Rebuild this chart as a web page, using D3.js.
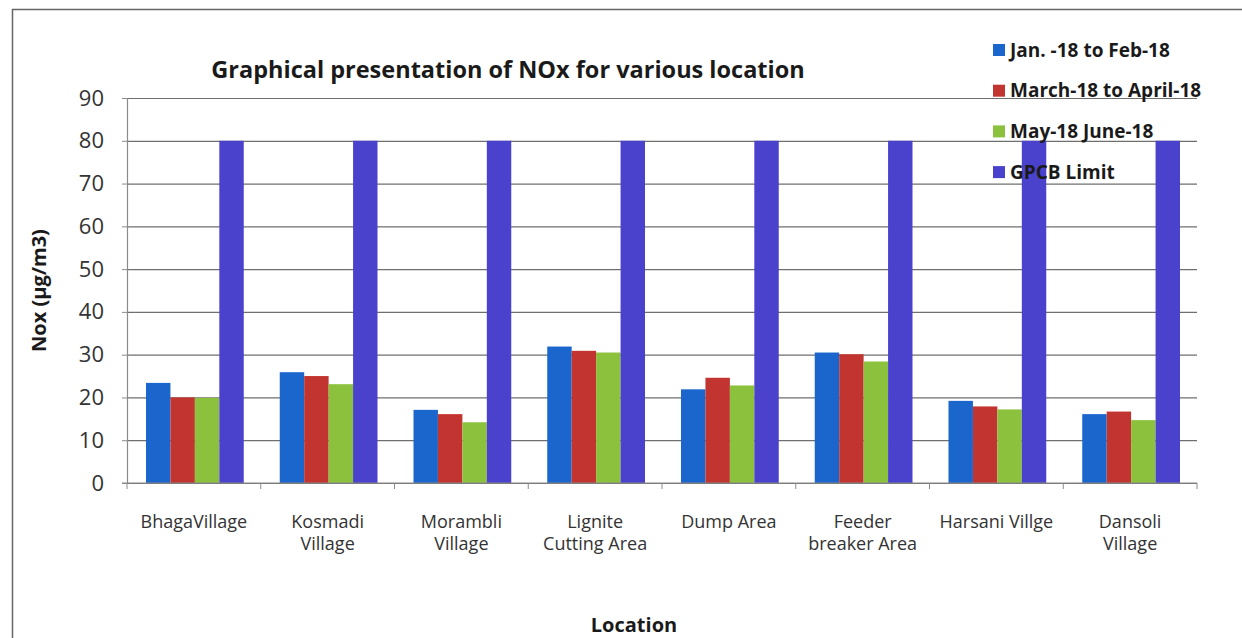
<!DOCTYPE html>
<html>
<head>
<meta charset="utf-8">
<script src="https://cdn.jsdelivr.net/npm/d3@7"></script>
<style>
    body { margin: 0; background: #fff; }
    svg text { font-family: "Open Sans", Lato, sans-serif; }
</style>
</head>
<body>
<div id="chart"></div>
<script>

// categories (multi-line labels split on "|")
var locations = ["BhagaVillage", "Kosmadi|Village", "Morambli|Village", "Lignite|Cutting Area",
    "Dump Area", "Feeder|breaker Area", "Harsani Villge", "Dansoli|Village"];

var seriesNames = ["Jan. -18 to Feb-18", "March-18 to April-18", "May-18 June-18", "GPCB Limit"];
var seriesColors = ["#1a66cc", "#c2342f", "#8cc13e", "#4a42cc"];

var janFeb = [23.4, 25.9, 17.1, 31.9, 21.9, 30.5, 19.2, 16.1];
var marApr = [20.0, 25.0, 16.1, 30.9, 24.6, 30.1, 17.9, 16.7];
var mayJun = [19.9, 23.1, 14.2, 30.5, 22.8, 28.4, 17.2, 14.7];
var gpcbLimit = [80, 80, 80, 80, 80, 80, 80, 80];

var yTicks = [0, 10, 20, 30, 40, 50, 60, 70, 80, 90];

var W = 1242, H = 638;
var plot = {left: 127, right: 1197, top: 98, bottom: 483};

var svg = d3.select("#chart").append("svg")
    .attr("width", W)
    .attr("height", H);

svg.append("rect").attr("width", W).attr("height", H).attr("fill", "#fff");

// outer chart-area frame (only left and top edges fall inside the picture)
svg.append("rect")
    .attr("x", 12.5).attr("y", 9.5)
    .attr("width", W + 20).attr("height", H + 20)
    .attr("fill", "none")
    .attr("stroke", "#666")
    .attr("stroke-width", 1.5);

var x0 = d3.scaleBand()
    .domain(locations)
    .range([plot.left, plot.right]);

var x1 = d3.scaleBand()
    .domain(seriesNames)
    .range([19, x0.bandwidth() - 17]);

var y = d3.scaleLinear()
    .domain([0, 90])
    .range([plot.bottom, plot.top]);

// gridlines
svg.append("g")
    .attr("transform", "translate(" + plot.left + ",0)")
    .call(d3.axisLeft(y).tickValues(yTicks).tickSize(-(plot.right - plot.left)).tickFormat(""))
    .call(function(g) {
        g.select(".domain").remove();
        g.selectAll("line").attr("stroke", "#6f6f6f").attr("stroke-width", 1.2);
    });

// bars
var table = locations.map(function(loc, i) {
    return {loc: loc, values: [janFeb[i], marApr[i], mayJun[i], gpcbLimit[i]]};
});

var groups = svg.append("g").selectAll("g")
    .data(table)
    .join("g")
    .attr("transform", function(d) { return "translate(" + x0(d.loc) + ",0)"; });

groups.selectAll("rect")
    .data(function(d) {
        return d.values.map(function(v, k) { return {name: seriesNames[k], value: v, color: seriesColors[k]}; });
    })
    .join("rect")
    .attr("x", function(d) { return x1(d.name); })
    .attr("width", x1.bandwidth())
    .attr("y", function(d) { return y(d.value); })
    .attr("height", function(d) { return y(0) - y(d.value); })
    .attr("fill", function(d) { return d.color; });

// y axis
var yAxis = svg.append("g")
    .attr("transform", "translate(" + plot.left + ",0)")
    .call(d3.axisLeft(y).tickValues(yTicks).tickSize(5).tickPadding(18));
yAxis.select(".domain").attr("stroke", "#8a8a8a").attr("stroke-width", 1.2);
yAxis.selectAll("line").attr("stroke", "#8a8a8a");
yAxis.selectAll("text")
    .attr("font-size", 22)
    .attr("fill", "#333")
    .style("font-family", "'Open Sans', sans-serif");

// x axis: ticks between categories
var xAxis = svg.append("g")
    .attr("transform", "translate(0," + plot.bottom + ")");
xAxis.append("line")
    .attr("x1", plot.left - 5).attr("x2", plot.right)
    .attr("stroke", "#8a8a8a").attr("stroke-width", 1.2);
xAxis.selectAll("line.tick")
    .data(locations.concat(["end"]))
    .join("line")
    .attr("class", "tick")
    .attr("x1", function(d, i) { return plot.left + i * x0.step(); })
    .attr("x2", function(d, i) { return plot.left + i * x0.step(); })
    .attr("y1", 0).attr("y2", 6)
    .attr("stroke", "#8a8a8a");

// two-line labels as separate texts, one per line
var labelLines = [];
locations.forEach(function(loc) {
    loc.split("|").forEach(function(line, i) {
        labelLines.push({loc: loc, line: line, row: i});
    });
});

xAxis.selectAll("text.cat")
    .data(labelLines)
    .join("text")
    .attr("class", "cat")
    .attr("x", function(d) { return x0(d.loc) + x0.bandwidth() / 2; })
    .attr("y", function(d) { return 45 + d.row * 22; })
    .attr("text-anchor", "middle")
    .attr("font-size", 18)
    .attr("fill", "#333")
    .text(function(d) { return d.line; });

// title
svg.append("text")
    .attr("x", 508)
    .attr("y", 78)
    .attr("text-anchor", "middle")
    .attr("font-size", 23.5)
    .attr("font-weight", "bold")
    .attr("fill", "#1a1a1a")
    .text("Graphical presentation of NOx for various location");

// axis titles
svg.append("text")
    .attr("x", 634)
    .attr("y", 632)
    .attr("text-anchor", "middle")
    .attr("font-size", 20)
    .attr("font-weight", "bold")
    .attr("fill", "#1a1a1a")
    .text("Location");

svg.append("text")
    .attr("transform", "translate(46," + ((plot.top + plot.bottom) / 2) + ") rotate(-90)")
    .attr("text-anchor", "middle")
    .attr("font-size", 20)
    .attr("font-weight", "bold")
    .attr("fill", "#1a1a1a")
    .text("Nox (\u00b5g/m3)");

// legend
var legend = svg.append("g").selectAll("g")
    .data(seriesNames)
    .join("g")
    .attr("transform", function(d, i) { return "translate(993," + (50 + i * 40.7) + ")"; });

legend.append("rect")
    .attr("x", 0).attr("y", -6)
    .attr("width", 12).attr("height", 12)
    .attr("fill", function(d, i) { return seriesColors[i]; });

legend.append("text")
    .attr("x", 17)
    .attr("y", 6.5)
    .attr("font-size", 19)
    .attr("font-weight", "bold")
    .attr("fill", "#1a1a1a")
    .text(function(d) { return d; });

</script>
</body>
</html>
